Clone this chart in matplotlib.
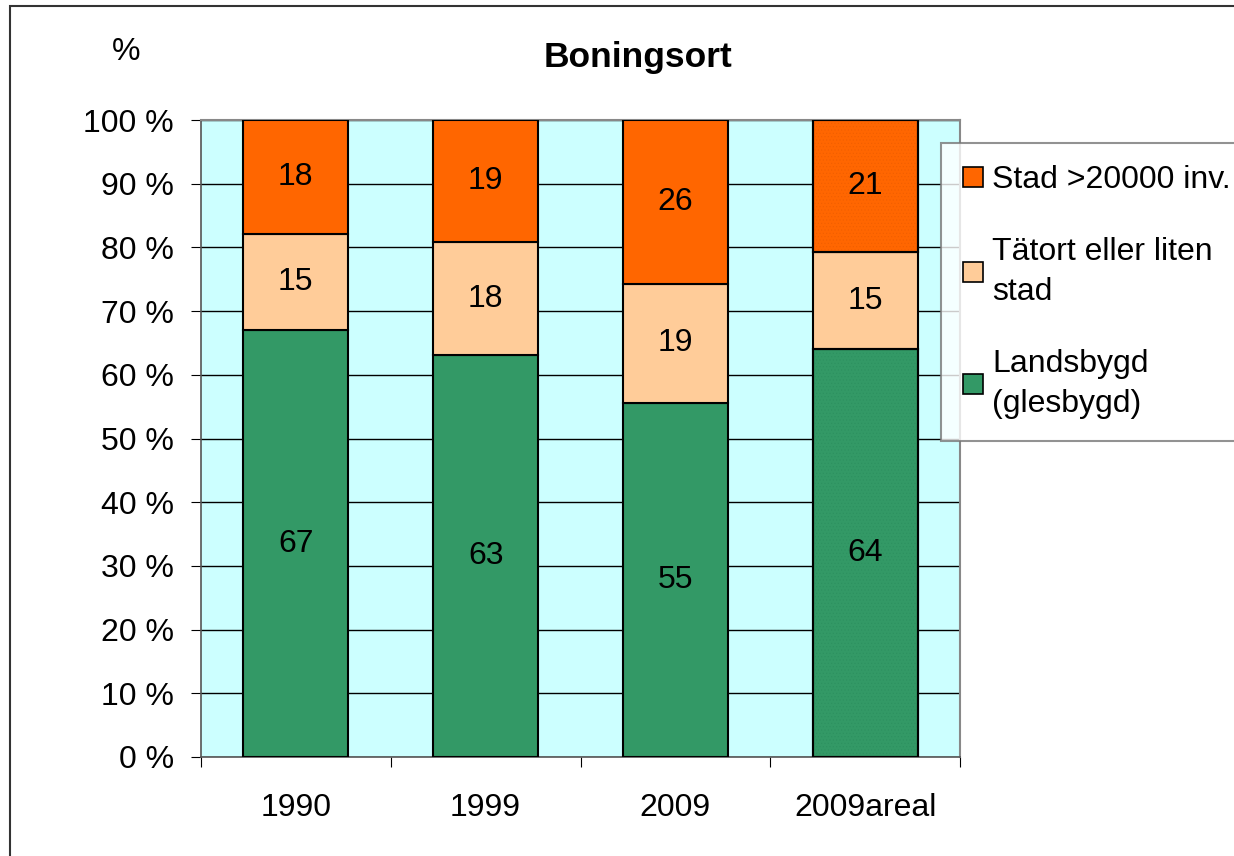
import numpy as np
import matplotlib.pyplot as plt
from matplotlib.patches import Rectangle

plt.rcParams['font.family'] = ['Liberation Sans', 'DejaVu Sans']

# Data
kategorier = ['1990', '1999', '2009', '2009areal']
landsbygd = [67.0, 63.1, 55.6, 64.0]
tatort = [15.1, 17.7, 18.7, 15.3]
stad = [17.9, 19.2, 25.7, 20.7]
etiketter_land = [67, 63, 55, 64]
etiketter_tat = [15, 18, 19, 15]
etiketter_stad = [18, 19, 26, 21]
serienamn = ['Stad >20000 inv.', 'Tätort eller liten\nstad', 'Landsbygd\n(glesbygd)']

farg_stad = '#FF6600'
farg_tat = '#FFCC99'
farg_land = '#339966'

fs = 23

fig = plt.figure(figsize=(12.34, 8.56), dpi=100)
ax = fig.add_axes([201/1234, 1-757/856, (960-201)/1234, (757-120)/856])
ax.set_facecolor('#CCFFFF')

x = np.arange(len(kategorier))
b = 0.553
land = np.array(landsbygd)
tat = np.array(tatort)
st = np.array(stad)

ax.bar(x, land, b, color=farg_land, edgecolor='black', linewidth=1.5, zorder=3)
ax.bar(x, tat, b, bottom=land, color=farg_tat, edgecolor='black', linewidth=1.5, zorder=3)
ax.bar(x, st, b, bottom=land+tat, color=farg_stad, edgecolor='black', linewidth=1.5, zorder=3)

# fine dotted pattern on the last bar
plt.rcParams['hatch.linewidth'] = 0.4
ax.bar(x[3], land[3], b, color='none', edgecolor='#2d9060', hatch='.....', linewidth=0, zorder=4)
ax.bar(x[3], st[3], b, bottom=land[3]+tat[3], color='none', edgecolor='#f05e00', hatch='.....', linewidth=0, zorder=4)
ax.bar(x[3], land[3], b, color='none', edgecolor='black', linewidth=1.5, zorder=5)
ax.bar(x[3], st[3], b, bottom=land[3]+tat[3], color='none', edgecolor='black', linewidth=1.5, zorder=5)

for i in range(len(x)):
    ax.text(x[i], land[i]/2, str(etiketter_land[i]), ha='center', va='center', fontsize=fs, zorder=6)
    ax.text(x[i], land[i]+tat[i]/2, str(etiketter_tat[i]), ha='center', va='center', fontsize=fs, zorder=6)
    ax.text(x[i], land[i]+tat[i]+st[i]/2, str(etiketter_stad[i]), ha='center', va='center', fontsize=fs, zorder=6)

ax.set_xlim(-0.5, 3.5)
ax.set_ylim(0, 100)
ax.set_yticks(np.arange(0, 101, 10))
ax.set_yticklabels([f'{v} %' for v in range(0, 101, 10)], fontsize=fs)
ax.yaxis.grid(True, color='black', linewidth=1.0, zorder=1)
ax.set_axisbelow(True)

ax.set_xticks(np.arange(-0.5, 4, 1))
ax.set_xticklabels([])
ax.set_xticks(x, minor=True)
ax.set_xticklabels(kategorier, minor=True, fontsize=fs)
ax.tick_params(axis='x', which='major', direction='out', length=7.5, color='black')
ax.tick_params(axis='x', which='minor', length=0, pad=26)
ax.tick_params(axis='y', direction='out', length=7.5, pad=12)

for s in ['left', 'bottom']:
    ax.spines[s].set_color('#555555')
    ax.spines[s].set_linewidth(1.2)
for s in ['top', 'right']:
    ax.spines[s].set_color('#888888')
    ax.spines[s].set_linewidth(1.5)

fig.text(638/1234, 1-57/856, 'Boningsort', ha='center', va='center', fontsize=25.5, fontweight='bold')
fig.text(126/1234, 1-52/856, '%', ha='center', va='center', fontsize=fs)

# legend
handles = [Rectangle((0, 0), 1, 1, facecolor=c, edgecolor='black', linewidth=1.2)
           for c in [farg_stad, farg_tat, farg_land]]
leg = fig.legend(handles, serienamn, loc='upper left', bbox_to_anchor=(941/1234, 1-143/856),
                 fontsize=fs, frameon=True, fancybox=False, borderpad=0.7,
                 labelspacing=1.3, handlelength=0.6, handleheight=0.6, handletextpad=0.3,
                 borderaxespad=0)
for t in leg.get_texts():
    t.set_linespacing(1.45)
leg.get_frame().set_edgecolor('#777777')
leg.get_frame().set_linewidth(1.5)

# outer frame
fig.patches.append(Rectangle((10/1234, -0.1), 1.2, 1-6/856+0.1, transform=fig.transFigure,
                             fill=False, edgecolor='#333333', linewidth=1.5))

fig.savefig('out.png', dpi=100)
